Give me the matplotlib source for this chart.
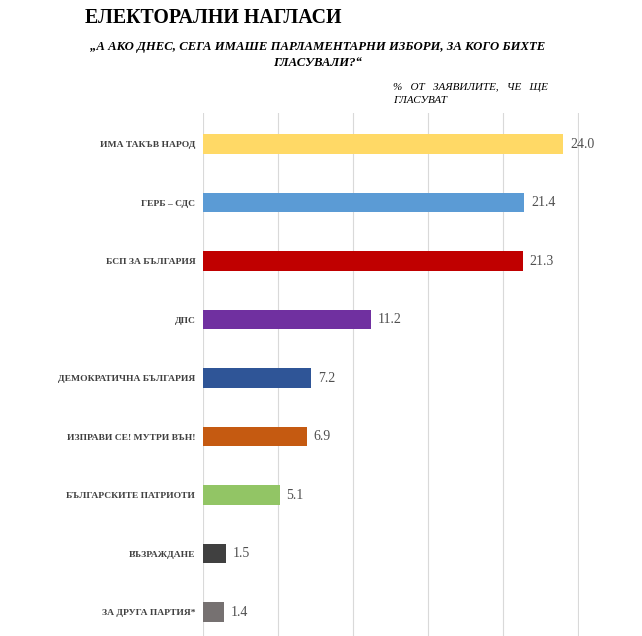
import matplotlib.pyplot as plt

parties = ["ИМА ТАКЪВ НАРОД", "ГЕРБ – СДС", "БСП ЗА БЪЛГАРИЯ", "ДПС",
           "ДЕМОКРАТИЧНА БЪЛГАРИЯ", "ИЗПРАВИ СЕ! МУТРИ ВЪН!",
           "БЪЛГАРСКИТЕ ПАТРИОТИ", "ВЪЗРАЖДАНЕ", "ЗА ДРУГА ПАРТИЯ*"]
values = [24.0, 21.4, 21.3, 11.2, 7.2, 6.9, 5.1, 1.5, 1.4]
colors = ["#FFD966", "#5B9BD5", "#C00000", "#7030A0", "#2F5597",
          "#C55A11", "#92C565", "#404040", "#767171"]

plt.rcParams['font.family'] = 'serif'
plt.rcParams['font.serif'] = ['Liberation Serif', 'DejaVu Serif']

fig = plt.figure(figsize=(6.42, 6.36), dpi=100)
W, H = 642, 636
ax = fig.add_axes([203 / W, 0, (579 - 203) / W, (636 - 113) / H])

ypos = list(range(len(parties)))
ax.barh(ypos, values, height=0.34, color=colors, zorder=3)
ax.set_ylim(len(parties) - 1 + 0.41, -0.53)
ax.set_xlim(0, 25.05)
ax.set_xticks([0, 5, 10, 15, 20, 25])
ax.xaxis.grid(True, color="#D9D9D9", linewidth=0.8, zorder=0)
ax.tick_params(axis='x', length=0, labelbottom=False)
ax.tick_params(axis='y', length=0, pad=5.5)
ax.set_yticks(ypos)
ax.set_yticklabels(parties, fontsize=6.8, fontweight='bold', color="#404040")
for s in ax.spines.values():
    s.set_visible(False)

for y, v in zip(ypos, values):
    ax.text(v + 0.45, y, f"{v:.1f}", va='center', ha='left', fontsize=10,
            color="#505050", clip_on=False)

fig.text(85 / W, 1 - 18 / H, "ЕЛЕКТОРАЛНИ НАГЛАСИ", fontsize=14.3,
         fontweight='bold', va='center', ha='left')
fig.text(318 / W, 1 - 55 / H,
         "„А АКО ДНЕС, СЕГА ИМАШЕ ПАРЛАМЕНТАРНИ ИЗБОРИ, ЗА КОГО БИХТЕ\nГЛАСУВАЛИ?“",
         fontsize=9.2, fontweight='bold', style='italic', va='center',
         ha='center', multialignment='center', linespacing=1.4)
fig.text(393 / W, 1 - 94 / H, "%   ОТ   ЗАЯВИЛИТЕ,   ЧЕ   ЩЕ\nГЛАСУВАТ",
         fontsize=8, style='italic', va='center', ha='left', linespacing=1.5)

fig.savefig("out.png", dpi=100)
